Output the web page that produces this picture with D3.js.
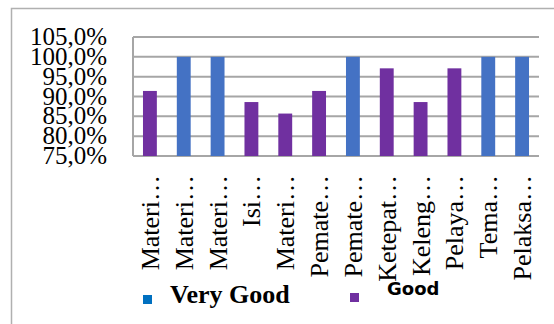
<!DOCTYPE html>
<html>
<head>
<meta charset="utf-8">
<script src="https://cdn.jsdelivr.net/npm/d3@7"></script>
<style>
body{margin:0;background:#fff;}
</style>
</head>
<body>
<svg width="554" height="324"></svg>
<script>
var categories=["Materi…","Materi…","Materi…","Isi…","Materi…","Pemate…","Pemate…","Ketepat…","Keleng…","Pelaya…","Tema…","Pelaksa…"];
var values=[91.4,100,100,88.6,85.7,91.4,100,97.1,88.6,97.1,100,100];
var ratings=["Good","Very Good","Very Good","Good","Good","Good","Very Good","Good","Good","Good","Very Good","Very Good"];
var yTicks=[75,80,85,90,95,100,105];

var svg=d3.select("svg");

// outer frame (only left and top visible)
svg.append("path")
.attr("d","M11.5,324V8.5H554")
.attr("fill","none")
.attr("stroke","#b0b0b0")
.attr("stroke-width",1.5);

var plotL=133, plotT=37, plotR=539, plotB=156;

var xScale=d3.scaleBand().domain(d3.range(categories.length)).range([plotL,plotR]).paddingInner(0.59).paddingOuter(0.295),
    yScale=d3.scaleLinear().domain([75,105]).range([plotB,plotT]);

var color={"Very Good":"#4472C4","Good":"#7030A0"};

var g=svg.append("g");

g.selectAll(".grid")
.data(yTicks)
.enter().append("line")
.attr("x1",plotL).attr("x2",plotR)
.attr("y1",function(d){return yScale(d);})
.attr("y2",function(d){return yScale(d);})
.attr("stroke","#a6a6a6")
.attr("stroke-width",2);

g.append("line")
.attr("x1",plotL).attr("x2",plotL)
.attr("y1",plotT).attr("y2",plotB)
.attr("stroke","#a6a6a6")
.attr("stroke-width",2);

g.selectAll(".bar")
.data(values)
.enter().append("rect")
.attr("x",function(d,i){return xScale(i);})
.attr("y",function(d){return yScale(d);})
.attr("width",xScale.bandwidth())
.attr("height",function(d){return plotB-yScale(d);})
.attr("fill",function(d,i){return color[ratings[i]];});

// y tick labels
g.selectAll(".ytick")
.data(yTicks)
.enter().append("text")
.attr("x",107)
.attr("y",function(d){return yScale(d)+8;})
.attr("text-anchor","end")
.attr("font-family","Liberation Serif")
.attr("font-size","25px")
.attr("fill","#000")
.text(function(d){return d3.format(".1f")(d).replace(".",",")+"%";});

// category labels
g.selectAll(".xlab")
.data(categories)
.enter().append("text")
.attr("transform",function(d,i){return "translate("+(xScale(i)+xScale.bandwidth()/2+9)+",175) rotate(-90)";})
.attr("text-anchor","end")
.attr("font-family","Liberation Serif")
.attr("font-size","26px")
.attr("fill","#000")
.text(function(d){return d;});

// legend
svg.append("rect").attr("x",143).attr("y",295).attr("width",9).attr("height",9).attr("fill","#0070C0");
svg.append("text").attr("x",170).attr("y",303)
.attr("font-family","Liberation Serif").attr("font-weight","bold").attr("font-size","26px")
.text("Very Good");
svg.append("rect").attr("x",350).attr("y",293).attr("width",9).attr("height",9).attr("fill","#7030A0");
svg.append("text").attr("x",387).attr("y",295)
.attr("font-family","DejaVu Sans").attr("font-weight","bold").attr("font-size","18px")
.text("Good");
</script>
</body>
</html>
